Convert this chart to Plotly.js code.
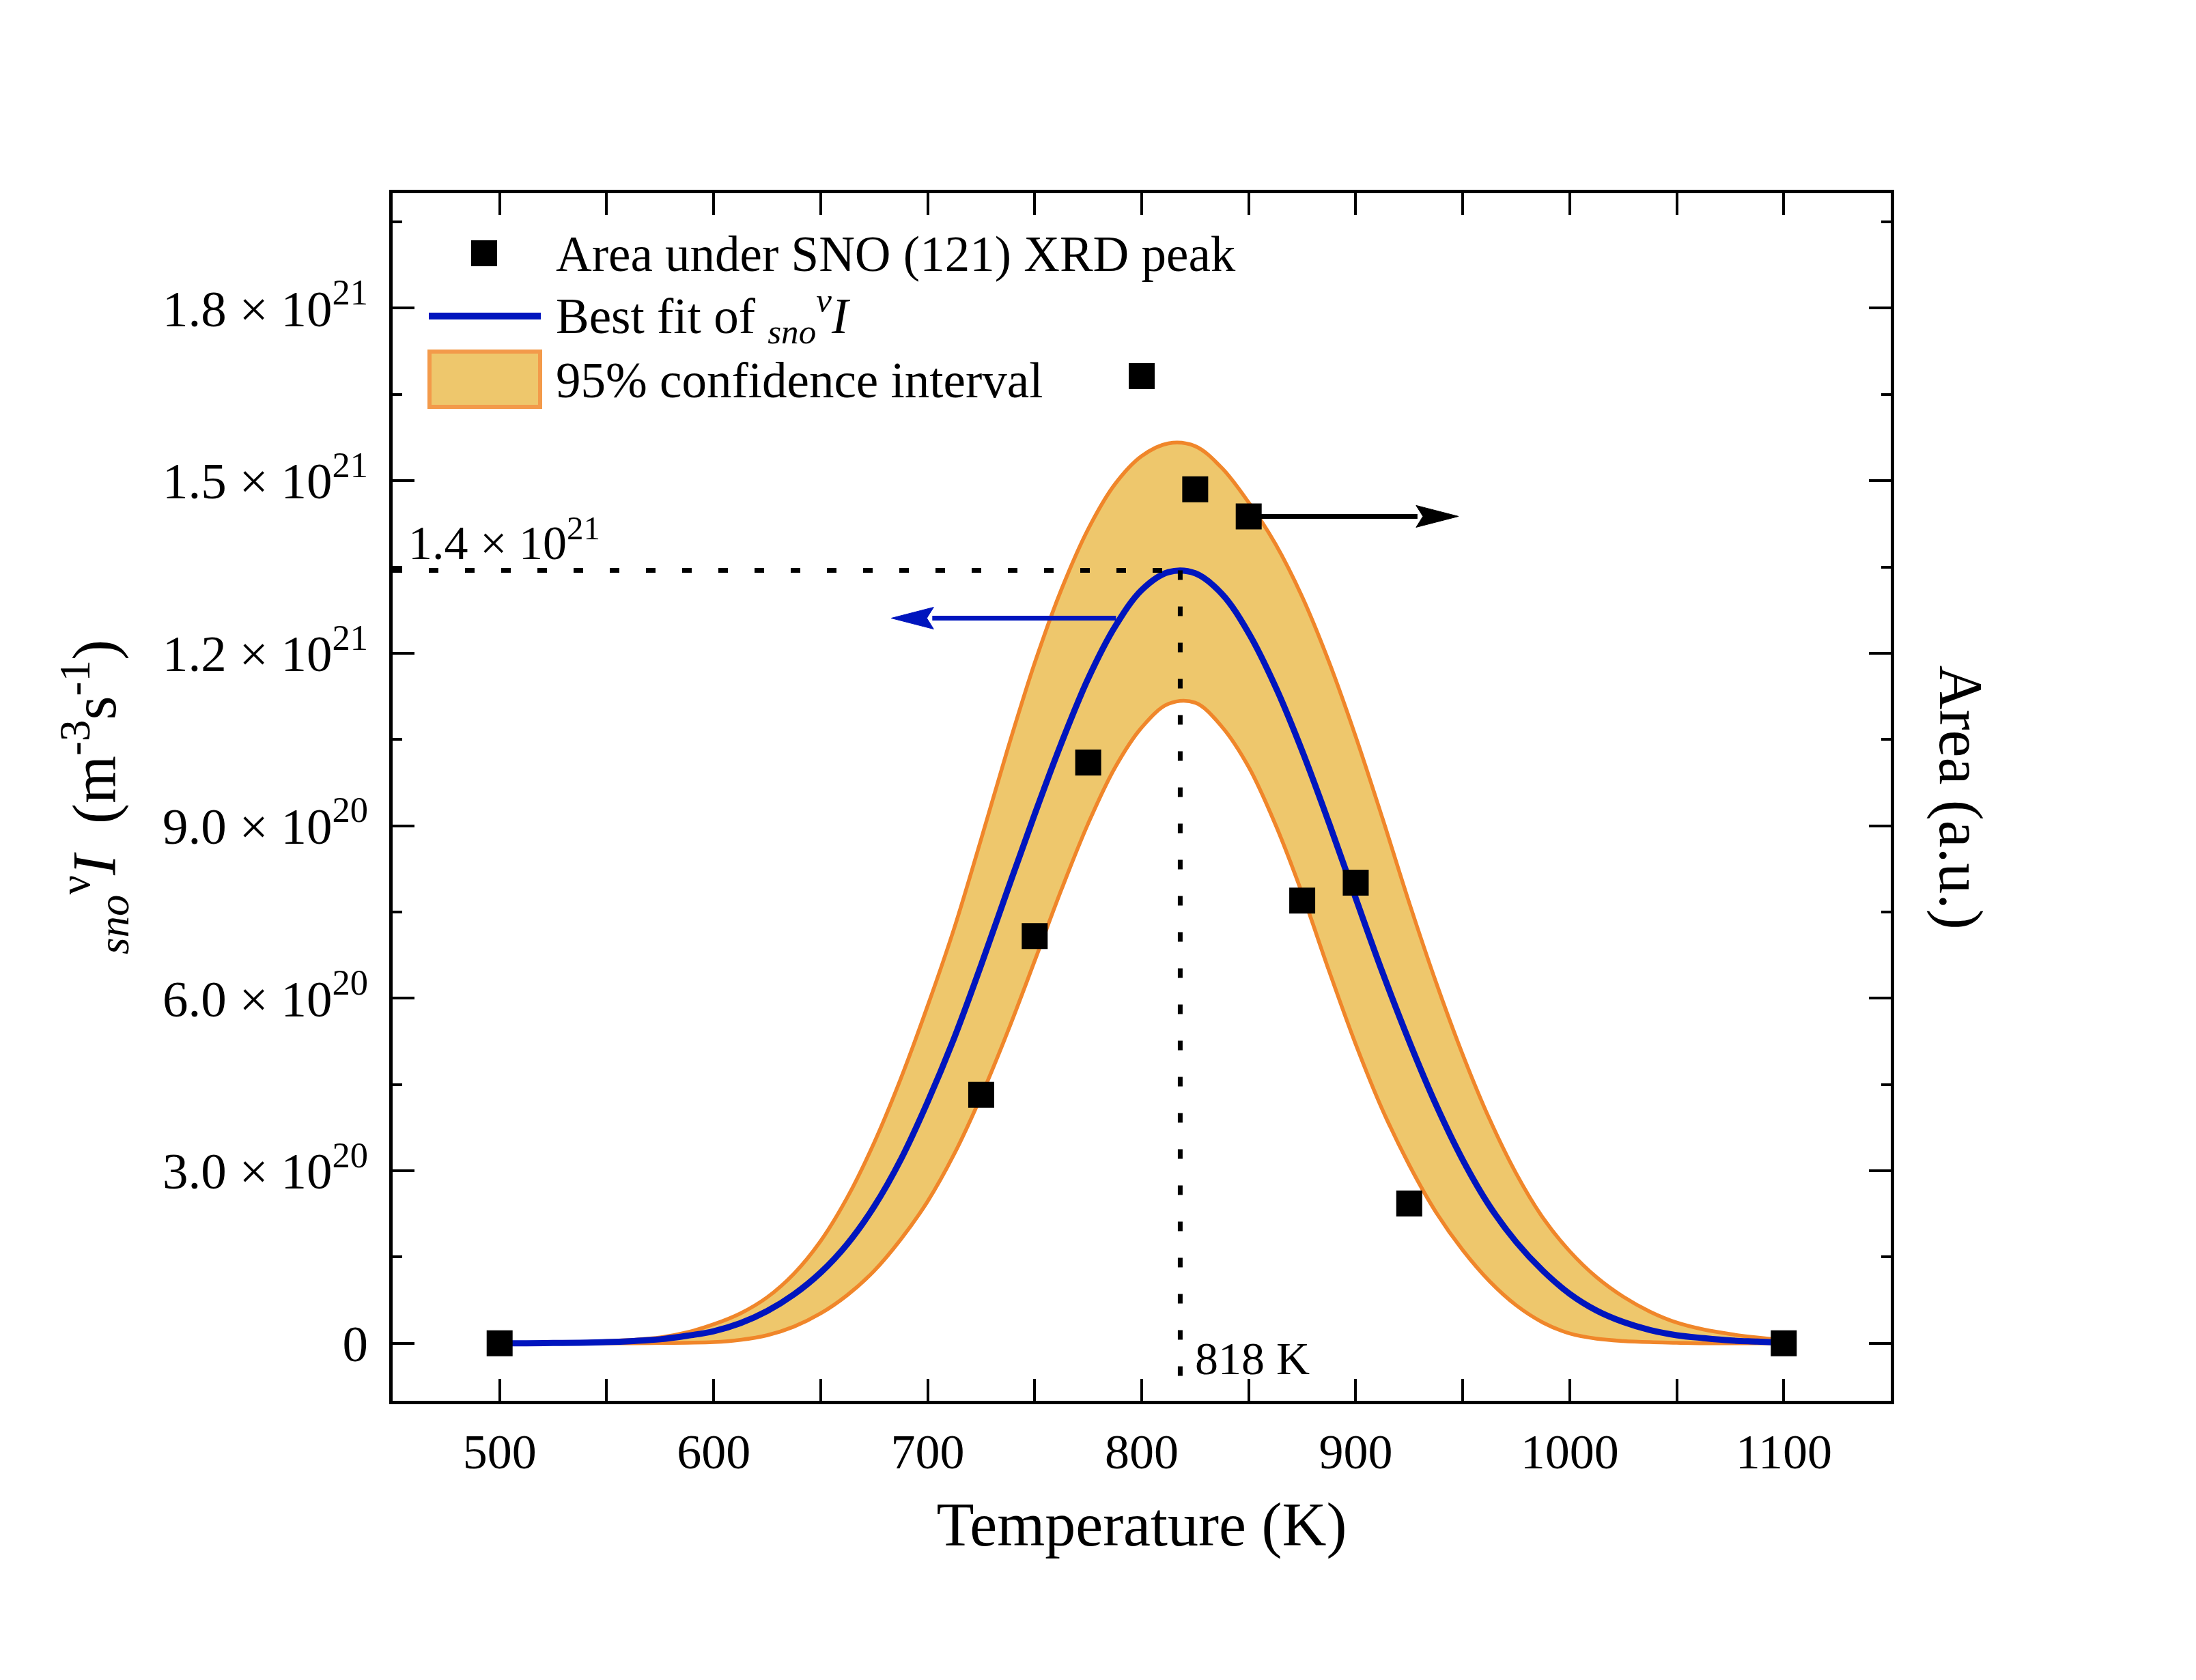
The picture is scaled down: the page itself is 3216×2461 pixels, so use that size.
<!DOCTYPE html>
<html>
<head>
<meta charset="utf-8">
<script src="https://cdn.plot.ly/plotly-3.0.1.min.js"></script>
<style>
  html, body { margin: 0; padding: 0; background: #ffffff; }
  #chart { width: 3216px; height: 2461px; }
</style>
</head>
<body>
<div id="chart"></div>
<script>
// ---------------- DATA ----------------
// Measured area under the SNO (121) XRD peak (right axis, arbitrary units)
const areaTemperatureK = [500, 725, 750, 775, 800, 825, 850, 875, 900, 925, 1100];
const areaAU = [0, 0.432, 0.708, 1.010, 1.682, 1.485, 1.438, 0.770, 0.801, 0.243, 0];

// Best fit of snoνI and its 95% confidence band (left axis, in units of 1e20 m^-3 s^-1)
const fitTemperatureK = [500, 512.5, 525, 537.5, 550, 562.5, 575, 587.5, 600, 612.5,
                         625, 637.5, 650, 662.5, 675, 687.5, 700, 712.5, 725, 737.5,
                         750, 762.5, 775, 787.5, 800, 812.5, 825, 837.5, 850, 862.5,
                         875, 887.5, 900, 912.5, 925, 937.5, 950, 962.5, 975, 987.5,
                         1000, 1012.5, 1025, 1037.5, 1050, 1062.5, 1075, 1087.5, 1100];
const fitI_e20   = [0, 0, 0.005, 0.01, 0.02, 0.04, 0.07, 0.13, 0.21, 0.35,
                    0.56, 0.85, 1.23, 1.73, 2.38, 3.20, 4.20, 5.32, 6.58, 7.90,
                    9.20, 10.44, 11.56, 12.46, 13.10, 13.41, 13.39, 13.03, 12.35, 11.42,
                    10.30, 9.05, 7.74, 6.45, 5.25, 4.15, 3.19, 2.39, 1.76, 1.26,
                    0.86, 0.57, 0.37, 0.23, 0.14, 0.09, 0.05, 0.03, 0.01];
const upperI_e20 = [0, 0, 0.01, 0.02, 0.04, 0.06, 0.10, 0.19, 0.33, 0.52,
                    0.80, 1.21, 1.78, 2.54, 3.49, 4.61, 5.87, 7.23, 8.77, 10.35,
                    11.83, 13.11, 14.16, 14.94, 15.43, 15.65, 15.60, 15.22, 14.62, 13.90,
                    12.98, 11.85, 10.55, 9.13, 7.66, 6.28, 5.02, 3.90, 2.95, 2.18,
                    1.60, 1.15, 0.81, 0.55, 0.36, 0.24, 0.16, 0.10, 0.05];
const lowerI_e20 = [0, 0, 0, 0, 0, 0, 0.005, 0.01, 0.02, 0.06,
                    0.14, 0.29, 0.52, 0.84, 1.26, 1.81, 2.47, 3.30, 4.30, 5.43,
                    6.65, 7.89, 9.04, 10.01, 10.71, 11.12, 11.14, 10.72, 10.02, 9.02,
                    7.82, 6.48, 5.20, 4.06, 3.10, 2.28, 1.62, 1.08, 0.66, 0.36,
                    0.17, 0.08, 0.04, 0.02, 0.01, 0, 0, 0, 0];
const I_UNIT = 1e20;

// Peak of the fit
const peakTemperatureK = 818;
const peakI = 1.344e21;

// Tick labels
const xTickValues = [500, 600, 700, 800, 900, 1000, 1100];
const xTickLabels = ['500', '600', '700', '800', '900', '1000', '1100'];
const yTickValues = [0, 3e20, 6e20, 9e20, 1.2e21, 1.5e21, 1.8e21];
const yTickLabels = ['0', '3.0 × 10<sup>20</sup>', '6.0 × 10<sup>20</sup>', '9.0 × 10<sup>20</sup>',
                     '1.2 × 10<sup>21</sup>', '1.5 × 10<sup>21</sup>', '1.8 × 10<sup>21</sup>'];

// Axis direction arrows (which axis each series belongs to)
const blueArrowFromK = 788, blueArrowToK = 683, blueArrowI = 1.261e21;
const blackArrowFromK = 850, blackArrowToK = 948, blackArrowI = 1.438e21;

// ---------------- LAYOUT CONSTANTS ----------------
const W = 3216, H = 2461;
const M = { l: 575, r: 447, t: 283, b: 409 };
const xRange = [450, 1150];
const yRange = [-1e20, 2.0e21];
const y2Range = [-0.1, 2.0];
const FONT = '"Liberation Serif", "Times New Roman", Times, serif';
const BLUE = '#0015BE', ORANGE = '#F0862A', FILL = '#EEC76C';

const plotW = W - M.l - M.r, plotH = H - M.t - M.b;
const pxPerK = plotW / (xRange[1] - xRange[0]);
const pxPerI = plotH / (yRange[1] - yRange[0]);

const scale = arr => arr.map(v => v * I_UNIT);

// ---------------- TRACES ----------------
const traces = [];

traces.push({
  x: fitTemperatureK, y: scale(lowerI_e20), type: 'scatter', mode: 'lines',
  line: { color: ORANGE, width: 5.5, shape: 'spline', smoothing: 1 },
  showlegend: false, name: '95% lower'
});
traces.push({
  x: fitTemperatureK, y: scale(upperI_e20), type: 'scatter', mode: 'lines',
  fill: 'tonexty', fillcolor: FILL,
  line: { color: ORANGE, width: 5.5, shape: 'spline', smoothing: 1 },
  showlegend: false, name: '95% confidence interval'
});
traces.push({
  x: fitTemperatureK, y: scale(fitI_e20), type: 'scatter', mode: 'lines',
  line: { color: BLUE, width: 9, shape: 'spline', smoothing: 1 },
  showlegend: false, name: 'Best fit'
});

// dotted guide lines to the peak
traces.push({
  x: [xRange[0], peakTemperatureK], y: [peakI, peakI], type: 'scatter', mode: 'lines',
  line: { color: '#000', width: 7, dash: '14px,39px' }, showlegend: false, hoverinfo: 'skip'
});
traces.push({
  x: [peakTemperatureK, peakTemperatureK], y: [peakI, yRange[0]], type: 'scatter', mode: 'lines',
  line: { color: '#000', width: 7, dash: '14px,39px' }, showlegend: false, hoverinfo: 'skip'
});

// arrows (shaft + head)
function arrow(fromK, toK, yv, color) {
  const dir = Math.sign(toK - fromK);
  const headLenK = 62 / pxPerK;
  const headHalf = 16 / pxPerI;
  const baseK = toK - dir * headLenK;
  traces.push({
    x: [fromK, baseK + dir * 2 / pxPerK], y: [yv, yv], type: 'scatter', mode: 'lines',
    line: { color: color, width: 7 }, showlegend: false, hoverinfo: 'skip'
  });
  traces.push({
    x: [toK, baseK, baseK + dir * 10 / pxPerK, baseK, toK],
    y: [yv, yv + headHalf, yv, yv - headHalf, yv],
    type: 'scatter', mode: 'lines', fill: 'toself', fillcolor: color,
    line: { color: color, width: 1 }, showlegend: false, hoverinfo: 'skip'
  });
}
arrow(blueArrowFromK, blueArrowToK, blueArrowI, BLUE);
arrow(blackArrowFromK, blackArrowToK, blackArrowI, '#000');

// measured points on the right (Area) axis
traces.push({
  x: areaTemperatureK, y: areaAU, type: 'scatter', mode: 'markers', yaxis: 'y2',
  marker: { symbol: 'square', size: 38, color: '#000' },
  showlegend: false, name: 'Area under SNO (121) XRD peak'
});

// ---------------- LEGEND (drawn in paper coordinates) ----------------
const px2x = px => (px - M.l) / plotW;
const px2y = py => (H - M.b - py) / plotH;

const shapes = [
  { type: 'rect', xref: 'paper', yref: 'paper', x0: px2x(690), x1: px2x(728), y0: px2y(390), y1: px2y(352),
    fillcolor: '#000', line: { width: 0 } },
  { type: 'line', xref: 'paper', yref: 'paper', x0: px2x(628), x1: px2x(792), y0: px2y(463), y1: px2y(463),
    line: { color: BLUE, width: 10 } },
  { type: 'rect', xref: 'paper', yref: 'paper', x0: px2x(629), x1: px2x(791), y0: px2y(596), y1: px2y(515),
    fillcolor: FILL, line: { color: '#F39A4A', width: 6 } }
];

const legendFont = { family: FONT, size: 73, color: '#000' };
const annotations = [
  { xref: 'paper', yref: 'paper', x: px2x(812), y: px2y(373), xanchor: 'left', yanchor: 'middle',
    text: 'Area under SNO (121) XRD peak', showarrow: false, font: legendFont },
  { xref: 'paper', yref: 'paper', x: px2x(812), y: px2y(462), xanchor: 'left', yanchor: 'middle',
    text: 'Best fit of <sub><i>sno</i></sub><sup><i>ν</i></sup><i>I</i>', showarrow: false, font: legendFont },
  { xref: 'paper', yref: 'paper', x: px2x(812), y: px2y(557), xanchor: 'left', yanchor: 'middle',
    text: '95% confidence interval', showarrow: false, font: legendFont },
  // peak annotations
  { xref: 'paper', yref: 'y', x: px2x(596), y: peakI, xanchor: 'left', yanchor: 'bottom',
    text: '1.4 × 10<sup>21</sup>', showarrow: false, font: { family: FONT, size: 70, color: '#000' } },
  { xref: 'x', yref: 'paper', x: peakTemperatureK, y: px2y(1990), xanchor: 'left', yanchor: 'middle', xshift: 20,
    text: String(peakTemperatureK) + ' K', showarrow: false, font: { family: FONT, size: 68, color: '#000' } },
  // right axis title
  { xref: 'paper', yref: 'paper', x: px2x(2871), y: 0.5, xanchor: 'center', yanchor: 'middle',
    text: 'Area (a.u.)', textangle: 90, showarrow: false, font: { family: FONT, size: 90, color: '#000' } }
];

const axisCommon = {
  showline: true, linewidth: 5, linecolor: '#000', mirror: 'allticks',
  ticks: 'inside', ticklen: 32, tickwidth: 4, tickcolor: '#000',
  showgrid: false, zeroline: false
};

const layout = {
  width: W, height: H,
  margin: M,
  paper_bgcolor: '#fff', plot_bgcolor: '#fff',
  font: { family: FONT, color: '#000' },
  showlegend: false,
  xaxis: Object.assign({}, axisCommon, {
    range: xRange, tickmode: 'array', tickvals: xTickValues, ticktext: xTickLabels,
    tickfont: { family: FONT, size: 72, color: '#000' },
    ticklabelstandoff: 8,
    minor: { tickmode: 'linear', tick0: 450, dtick: 50, ticks: 'inside', ticklen: 14, tickwidth: 4, tickcolor: '#000' },
    title: { text: 'Temperature (K)', font: { family: FONT, size: 90, color: '#000' }, standoff: 36 }
  }),
  yaxis: Object.assign({}, axisCommon, {
    range: yRange, tickmode: 'array', tickvals: yTickValues, ticktext: yTickLabels,
    tickfont: { family: FONT, size: 75, color: '#000' },
    ticklabelstandoff: 16,
    minor: { tickmode: 'linear', tick0: 0, dtick: 1.5e20, ticks: 'inside', ticklen: 14, tickwidth: 4, tickcolor: '#000' },
    title: { text: '<sub><i>sno</i></sub><sup>ν</sup><i>I</i>  (m<sup>-3</sup>s<sup>-1</sup>)',
             font: { family: FONT, size: 90, color: '#000' }, standoff: 40 }
  }),
  yaxis2: {
    overlaying: 'y', side: 'right', range: y2Range,
    showline: false, showgrid: false, zeroline: false, ticks: '', showticklabels: false
  },
  shapes: shapes,
  annotations: annotations
};

Plotly.newPlot('chart', traces, layout, { staticPlot: true, displayModeBar: false });
</script>
</body>
</html>
